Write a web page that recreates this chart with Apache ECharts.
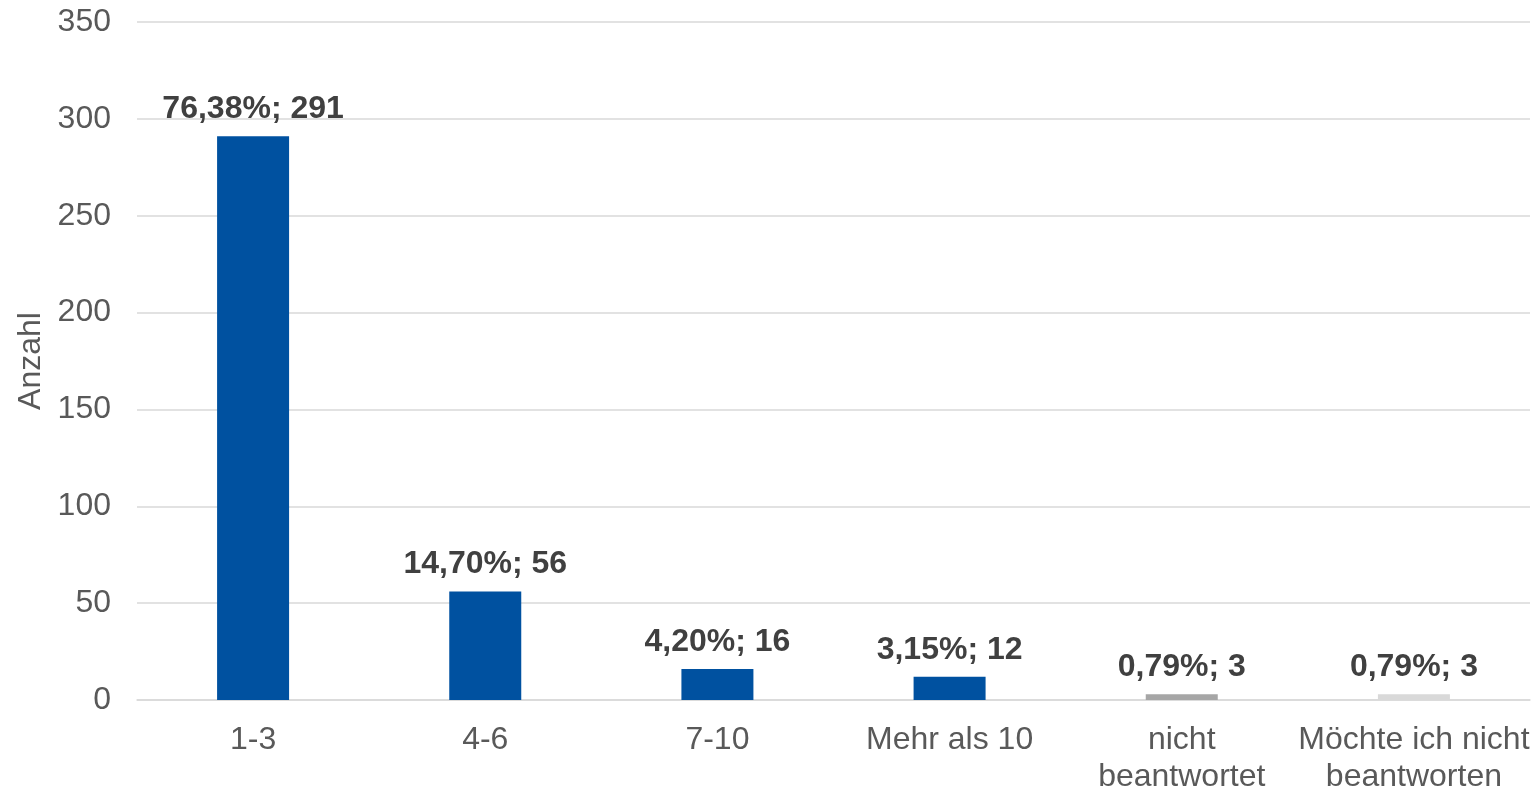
<!DOCTYPE html>
<html>
<head>
<meta charset="utf-8">
<script src="https://cdn.jsdelivr.net/npm/echarts@6/dist/echarts.min.js"></script>
<style>
  html, body { margin: 0; padding: 0; background: #fff; }
  #chart { width: 1537px; height: 790px; }
</style>
</head>
<body>
<div id="chart"></div>
<script>
var categories = ['1-3', '4-6', '7-10', 'Mehr als 10', 'nicht\nbeantwortet', 'Möchte ich nicht\nbeantworten']
var counts = [291, 56, 16, 12, 3, 3]
var percents = ['76,38%', '14,70%', '4,20%', '3,15%', '0,79%', '0,79%']
var barColors = ['#0051A0', '#0051A0', '#0051A0', '#0051A0', '#A6A6A6', '#D9D9D9']
var yTicks = { min: 0, max: 350, interval: 50 }

var chart = echarts.init(document.getElementById('chart'))
var font = 'Liberation Sans, Arial, sans-serif'

var option = {
  backgroundColor: '#fff',
  animation: false,
  grid: { left: 137, right: 7, top: 22, bottom: 90, outerBoundsMode: 'none', containLabel: false },
  xAxis: {
    type: 'category',
    data: categories,
    axisTick: { show: false },
    axisLine: { lineStyle: { color: '#D9D9D9', width: 1.5 } },
    axisLabel: {
      color: '#595959',
      fontSize: 32,
      fontFamily: font,
      margin: 22,
      lineHeight: 37,
      interval: 0
    }
  },
  yAxis: {
    type: 'value',
    min: yTicks.min,
    max: yTicks.max,
    interval: yTicks.interval,
    name: 'Anzahl',
    nameLocation: 'middle',
    nameRotate: 90,
    nameGap: 90,
    nameTextStyle: { color: '#595959', fontSize: 32, fontFamily: font },
    axisLine: { show: false },
    axisTick: { show: false },
    axisLabel: { color: '#595959', fontSize: 32, fontFamily: font, margin: 26 },
    splitLine: { lineStyle: { color: '#D9D9D9', width: 1.5 } }
  },
  series: [{
    type: 'bar',
    barWidth: 72,
    data: counts.map(function (v, i) {
      return { value: v, itemStyle: { color: barColors[i] } }
    }),
    label: {
      show: true,
      position: 'top',
      distance: 11,
      color: '#404040',
      fontSize: 32,
      fontWeight: 'bold',
      fontFamily: font,
      formatter: function (p) {
        return percents[p.dataIndex] + '; ' + p.value
      }
    }
  }]
}
chart.setOption(option)
</script>
</body>
</html>
